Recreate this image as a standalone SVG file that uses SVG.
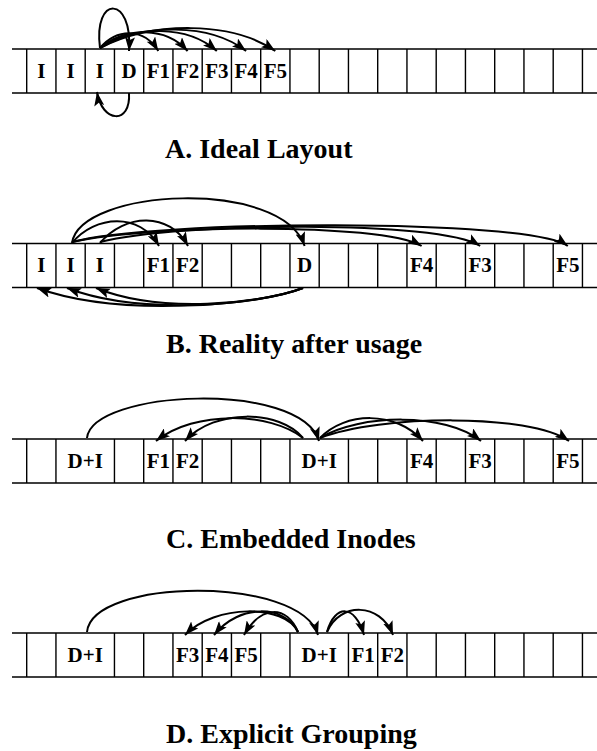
<svg xmlns="http://www.w3.org/2000/svg" width="597" height="751" viewBox="0 0 597 751">
<defs>
<marker id="ah" markerUnits="userSpaceOnUse" markerWidth="15" markerHeight="10" refX="14" refY="5" orient="auto">
<path d="M0,0 L14,5 L0,10 L3,5 z" fill="#000"/>
</marker>
<style>
.grid{fill:none;stroke:#000;stroke-width:1.4}
.lbl{font-family:"Liberation Serif","Times New Roman",serif;font-weight:bold;font-size:21px;text-anchor:middle;fill:#000}
.cap{font-family:"Liberation Serif","Times New Roman",serif;font-weight:bold;font-size:28px;fill:#000}
.arc{fill:none;stroke:#000;stroke-width:2;marker-end:url(#ah)}
</style>
</defs>
<rect width="597" height="751" fill="#fff"/>

<!-- Row A -->
<g id="rowA">
<path class="grid" d="M12,49H597M12,93H597M26.7,49V93M55.95,49V93M85.2,49V93M114.45,49V93M143.7,49V93M172.95,49V93M202.2,49V93M231.45,49V93M260.7,49V93M289.95,49V93M319.2,49V93M348.45,49V93M377.7,49V93M406.95,49V93M436.2,49V93M465.45,49V93M494.7,49V93M523.95,49V93M553.2,49V93M582.45,49V93"/>
<g id="a-i1"><text class="lbl" x="41.3" y="77.5">I</text></g>
<g id="a-i2"><text class="lbl" x="70.6" y="77.5">I</text></g>
<g id="a-i3"><text class="lbl" x="99.8" y="77.5">I</text></g>
<g id="a-d"><text class="lbl" x="129.1" y="77.5">D</text></g>
<g id="a-f1"><text class="lbl" x="158.3" y="77.5">F1</text></g>
<g id="a-f2"><text class="lbl" x="187.6" y="77.5">F2</text></g>
<g id="a-f3"><text class="lbl" x="216.8" y="77.5">F3</text></g>
<g id="a-f4"><text class="lbl" x="246.1" y="77.5">F4</text></g>
<g id="a-f5"><text class="lbl" x="275.3" y="77.5">F5</text></g>
</g>
<text id="capA" class="cap" x="165" y="158">A. Ideal Layout</text>

<!-- Row B -->
<g id="rowB">
<path class="grid" d="M12,243.5H597M12,287.5H597M26.7,243.5V287.5M55.95,243.5V287.5M85.2,243.5V287.5M114.45,243.5V287.5M143.7,243.5V287.5M172.95,243.5V287.5M202.2,243.5V287.5M231.45,243.5V287.5M260.7,243.5V287.5M289.95,243.5V287.5M319.2,243.5V287.5M348.45,243.5V287.5M377.7,243.5V287.5M406.95,243.5V287.5M436.2,243.5V287.5M465.45,243.5V287.5M494.7,243.5V287.5M523.95,243.5V287.5M553.2,243.5V287.5M582.45,243.5V287.5"/>
<g id="b-i1"><text class="lbl" x="41.3" y="272">I</text></g>
<g id="b-i2"><text class="lbl" x="70.6" y="272">I</text></g>
<g id="b-i3"><text class="lbl" x="99.8" y="272">I</text></g>
<g id="b-f1"><text class="lbl" x="158.3" y="272">F1</text></g>
<g id="b-f2"><text class="lbl" x="187.6" y="272">F2</text></g>
<g id="b-d"><text class="lbl" x="304.6" y="272">D</text></g>
<g id="b-f4"><text class="lbl" x="421.6" y="272">F4</text></g>
<g id="b-f3"><text class="lbl" x="480.1" y="272">F3</text></g>
<g id="b-f5"><text class="lbl" x="567.8" y="272">F5</text></g>
</g>
<text id="capB" class="cap" x="166" y="353">B. Reality after usage</text>

<!-- Row C -->
<g id="rowC">
<path class="grid" d="M12,439H597M12,483H597M26.7,439V483M55.95,439V483M114.45,439V483M143.7,439V483M172.95,439V483M202.2,439V483M231.45,439V483M260.7,439V483M289.95,439V483M348.45,439V483M377.7,439V483M406.95,439V483M436.2,439V483M465.45,439V483M494.7,439V483M523.95,439V483M553.2,439V483M582.45,439V483"/>
<g id="c-di1"><text class="lbl" x="85.2" y="467.5">D+I</text></g>
<g id="c-f1"><text class="lbl" x="158.3" y="467.5">F1</text></g>
<g id="c-f2"><text class="lbl" x="187.6" y="467.5">F2</text></g>
<g id="c-di2"><text class="lbl" x="319.2" y="467.5">D+I</text></g>
<g id="c-f4"><text class="lbl" x="421.6" y="467.5">F4</text></g>
<g id="c-f3"><text class="lbl" x="480.1" y="467.5">F3</text></g>
<g id="c-f5"><text class="lbl" x="567.8" y="467.5">F5</text></g>
</g>
<text id="capC" class="cap" x="166" y="548">C. Embedded Inodes</text>

<!-- Row D -->
<g id="rowD">
<path class="grid" d="M12,633H597M12,677H597M26.7,633V677M55.95,633V677M114.45,633V677M143.7,633V677M172.95,633V677M202.2,633V677M231.45,633V677M260.7,633V677M289.95,633V677M348.45,633V677M377.7,633V677M406.95,633V677M436.2,633V677M465.45,633V677M494.7,633V677M523.95,633V677M553.2,633V677M582.45,633V677"/>
<g id="d-di1"><text class="lbl" x="85.2" y="661.5">D+I</text></g>
<g id="d-f3"><text class="lbl" x="187.6" y="661.5">F3</text></g>
<g id="d-f4"><text class="lbl" x="216.8" y="661.5">F4</text></g>
<g id="d-f5"><text class="lbl" x="246.1" y="661.5">F5</text></g>
<g id="d-di2"><text class="lbl" x="319.2" y="661.5">D+I</text></g>
<g id="d-f1"><text class="lbl" x="363.1" y="661.5">F1</text></g>
<g id="d-f2"><text class="lbl" x="392.3" y="661.5">F2</text></g>
</g>
<text id="capD" class="cap" x="166" y="743">D. Explicit Grouping</text>

<g id="connectors">
<!-- A -->
<path class="arc" d="M100,48 C93,-5 133,-5 129,51"/>
<path class="arc" d="M100,48 C117.5,28 144,28 158.3,51"/>
<path class="arc" d="M100,48 C126,26.5 165.7,26.5 187.6,51"/>
<path class="arc" d="M100,48 C135,25 187.6,25 216.8,51"/>
<path class="arc" d="M100,48 C143.8,23 209.6,23 246.1,51"/>
<path class="arc" d="M100,48 C152.6,21 231.5,21 275.3,51"/>
<path class="arc" d="M129,93 C131,125 102,123 97,92"/>
<!-- B -->
<path class="arc" d="M72,243 C80,188 282,178 304.6,246"/>
<path class="arc" d="M72,243 C95,215 140,212 159,246"/>
<path class="arc" d="M100,243 C125,213 170,212 188,246"/>
<path class="arc" d="M72,242 C150,225 380,222 421.6,246"/>
<path class="arc" d="M100,242 C180,222 440,220 480.1,246"/>
<path class="arc" d="M72,242 C150,220 530,218 567.8,246"/>
<path class="arc" d="M303,288 C260,305 120,318 37,288"/>
<path class="arc" d="M303,288 C260,305 140,316 67,288"/>
<path class="arc" d="M303,288 C260,304 160,314 96,288"/>
<!-- C -->
<path class="arc" d="M87,438 C92,390 300,380 319,441"/>
<path class="arc" d="M303,438 C270,412 195,410 156,441"/>
<path class="arc" d="M303,438 C280,410 215,408 185,441"/>
<path class="arc" d="M320,438 C345,412 395,410 423,441"/>
<path class="arc" d="M320,438 C360,414 445,412 481,441"/>
<path class="arc" d="M320,438 C380,415 530,413 569,441"/>
<!-- D -->
<path class="arc" d="M87,632 C92,578 300,575 318,635"/>
<path class="arc" d="M298,632 C285,604 215,604 185,635"/>
<path class="arc" d="M298,632 C285,605 240,603 214,635"/>
<path class="arc" d="M298,632 C287,606 262,604 244,635"/>
<path class="arc" d="M327,632 C335,604 355,604 364,635"/>
<path class="arc" d="M327,632 C340,602 380,602 393,635"/>
</g>
</svg>
